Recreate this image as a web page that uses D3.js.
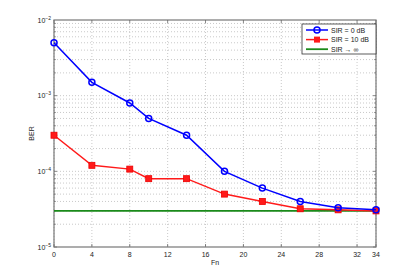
<!DOCTYPE html>
<html><head><meta charset="utf-8">
<script src="https://cdn.jsdelivr.net/npm/d3@7"></script>
<style>body{margin:0;background:#fff}text{font-family:"Liberation Sans",Arial,sans-serif}</style>
</head><body>
<svg id="c" width="415" height="278"></svg>
<script>
const fn = [0, 4, 8, 10, 14, 18, 22, 26, 30, 34];
const sir0 = [5e-3, 1.5e-3, 8e-4, 5e-4, 3e-4, 1e-4, 6e-5, 4e-5, 3.3e-5, 3.1e-5];
const sir10 = [3e-4, 1.2e-4, 1.07e-4, 8e-5, 8e-5, 5e-5, 4e-5, 3.2e-5, 3.1e-5, 3e-5];
const sirInf = [3e-5, 3e-5];
const sirInfX = [0, 34];
const xTicks = [0, 4, 8, 12, 16, 20, 24, 28, 32, 34];
const yTicksExp = [-5, -4, -3, -2];
const legendLabels = ["SIR = 0 dB", "SIR = 10 dB", "SIR \u2192 \u221e"];

const svg = d3.select("#c");
const L = 54, R = 376, T = 20, B = 247;
const x = d3.scaleLinear().domain([0, 34]).range([L, R]);
const y = d3.scaleLog().domain([1e-5, 1e-2]).range([B, T]);

// grid
const g = svg.append("g");
xTicks.forEach(t => g.append("line").attr("x1", x(t)).attr("x2", x(t)).attr("y1", T).attr("y2", B)
  .attr("stroke", "#bbb").attr("stroke-width", 0.8).attr("stroke-dasharray", "1,2"));
for (let e = -5; e < -2; e++) {
  for (let m = 1; m < 10; m++) {
    const v = m * Math.pow(10, e);
    if (m === 1 && e === -5) continue;
    g.append("line").attr("x1", L).attr("x2", R).attr("y1", y(v)).attr("y2", y(v))
      .attr("stroke", "#bbb").attr("stroke-width", 0.8).attr("stroke-dasharray", "1,2");
  }
}

// ticks inward
const tk = svg.append("g").attr("stroke", "#555").attr("stroke-width", 0.7);
xTicks.forEach(t => {
  tk.append("line").attr("x1", x(t)).attr("x2", x(t)).attr("y1", B).attr("y2", B - 3);
  tk.append("line").attr("x1", x(t)).attr("x2", x(t)).attr("y1", T).attr("y2", T + 3);
});
for (let e = -5; e < -2; e++) {
  for (let m = 1; m < 10; m++) {
    const v = m * Math.pow(10, e);
    const len = m === 1 ? 3 : 1.8;
    tk.append("line").attr("x1", L).attr("x2", L + len).attr("y1", y(v)).attr("y2", y(v));
    tk.append("line").attr("x1", R).attr("x2", R - len).attr("y1", y(v)).attr("y2", y(v));
  }
}

// box
svg.append("rect").attr("x", L).attr("y", T).attr("width", R - L).attr("height", B - T)
  .attr("fill", "none").attr("stroke", "#777").attr("stroke-width", 1.2);

// x tick labels
xTicks.forEach(t => svg.append("text").attr("x", x(t)).attr("y", B + 10).attr("text-anchor", "middle")
  .attr("font-size", 7).attr("fill", "#222").text(t));
// y tick labels
yTicksExp.forEach(e => {
  const tx = svg.append("text").attr("x", L - 3).attr("y", y(Math.pow(10, e)) + 2.5)
    .attr("text-anchor", "end").attr("font-size", 7).attr("fill", "#222");
  tx.append("tspan").text("10");
  tx.append("tspan").attr("dy", -3).attr("font-size", 5).text("\u2212" + (-e));
});
svg.append("text").attr("x", x(17)).attr("y", B + 18).attr("text-anchor", "middle")
  .attr("font-size", 7).attr("fill", "#222").text("Fn");
svg.append("text").attr("transform", `translate(34,${(T + B) / 2}) rotate(-90)`).attr("text-anchor", "middle")
  .attr("font-size", 7).attr("fill", "#222").text("BER");

const line = d3.line().x(d => x(d[0])).y(d => y(d[1]));
const clip = svg.append("g");
// green
clip.append("path").datum(sirInfX.map((v, i) => [v, sirInf[i]])).attr("d", line)
  .attr("fill", "none").attr("stroke", "#1a8a1a").attr("stroke-width", 1.8);
// red
const rd = fn.map((v, i) => [v, sir10[i]]);
clip.append("path").datum(rd).attr("d", line).attr("fill", "none").attr("stroke", "#ff1a1a").attr("stroke-width", 1.5);
clip.selectAll(".rm").data(rd).enter().append("rect")
  .attr("x", d => x(d[0]) - 3).attr("y", d => y(d[1]) - 3).attr("width", 6).attr("height", 6)
  .attr("fill", "#ff1a1a").attr("stroke", "#e00").attr("stroke-width", 0.8);
// blue
const bd = fn.map((v, i) => [v, sir0[i]]);
clip.append("path").datum(bd).attr("d", line).attr("fill", "none").attr("stroke", "#0000ff").attr("stroke-width", 1.5);
clip.selectAll(".bm").data(bd).enter().append("circle")
  .attr("cx", d => x(d[0])).attr("cy", d => y(d[1])).attr("r", 3)
  .attr("fill", "none").attr("stroke", "#0000ff").attr("stroke-width", 1.5);

// legend
const lg = svg.append("g");
lg.append("rect").attr("x", 302).attr("y", 24).attr("width", 74).attr("height", 30)
  .attr("fill", "#fff").attr("stroke", "#333").attr("stroke-width", 0.8);
const lc = ["#0000ff", "#ff1a1a", "#1a8a1a"];
legendLabels.forEach((lab, i) => {
  const yy = 30 + i * 9.6;
  lg.append("line").attr("x1", 306).attr("x2", 328).attr("y1", yy).attr("y2", yy)
    .attr("stroke", lc[i]).attr("stroke-width", i === 2 ? 1.8 : 1.5);
  if (i === 0) lg.append("circle").attr("cx", 317).attr("cy", yy).attr("r", 3).attr("fill", "none").attr("stroke", lc[0]).attr("stroke-width", 1.5);
  if (i === 1) lg.append("rect").attr("x", 314).attr("y", yy - 3).attr("width", 6).attr("height", 6).attr("fill", lc[1]);
  lg.append("text").attr("x", 331).attr("y", yy + 2.5).attr("font-size", 7).attr("fill", "#222").text(lab);
});
</script>
</body></html>
